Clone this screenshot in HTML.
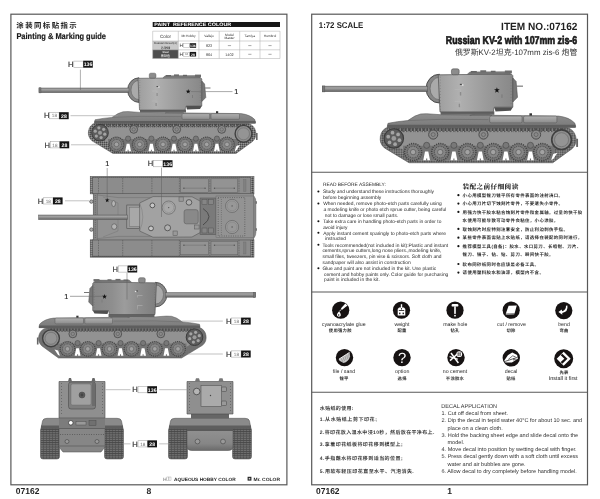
<!DOCTYPE html>
<html><head><meta charset="utf-8"><title>07162</title>
<style>html,body{margin:0;padding:0;background:#fff}svg{display:block;will-change:transform;transform:translateZ(0);text-rendering:geometricPrecision;filter:blur(0.35px)}</style>
</head><body>
<svg width="600" height="499" viewBox="0 0 600 499">
<defs>
<linearGradient id="gTur" x1="0" y1="0" x2="1" y2="0"><stop offset="0" stop-color="#9e9e9e"/><stop offset="0.28" stop-color="#b0b0b0"/><stop offset="0.65" stop-color="#9a9a9a"/><stop offset="1" stop-color="#888"/></linearGradient>
<linearGradient id="gTur3" x1="0" y1="0" x2="1" y2="0"><stop offset="0" stop-color="#7e7e7e"/><stop offset="0.3" stop-color="#8e8e8e"/><stop offset="0.5" stop-color="#9c9c9c"/><stop offset="0.7" stop-color="#8e8e8e"/><stop offset="1" stop-color="#868686"/></linearGradient>
<linearGradient id="gBar" x1="0" y1="0" x2="0" y2="1"><stop offset="0" stop-color="#8e8e8e"/><stop offset="0.35" stop-color="#a2a2a2"/><stop offset="1" stop-color="#626262"/></linearGradient>
<linearGradient id="gHull" x1="0" y1="0" x2="0" y2="1"><stop offset="0" stop-color="#8e8e8e"/><stop offset="1" stop-color="#7a7a7a"/></linearGradient>
<linearGradient id="gBox" x1="0" y1="0" x2="0" y2="1"><stop offset="0" stop-color="#b0b0b0"/><stop offset="1" stop-color="#8c8c8c"/></linearGradient>
<linearGradient id="gLow" x1="0" y1="0" x2="0" y2="1"><stop offset="0" stop-color="#929292"/><stop offset="0.7" stop-color="#868686"/><stop offset="1" stop-color="#6a6a6a"/></linearGradient>
<pattern id="pTrk" width="2" height="2" patternUnits="userSpaceOnUse"><rect width="2" height="2" fill="#727272"/><rect width="1" height="1" fill="#4a4a4a"/><rect x="1" y="1" width="1" height="1" fill="#949494"/></pattern>
<pattern id="pTrkV" width="3" height="2.2" patternUnits="userSpaceOnUse"><rect width="3" height="2.2" fill="#727272"/><rect width="3" height="0.9" fill="#484848"/><rect x="1" y="0.9" width="1" height="1.3" fill="#585858"/></pattern>
</defs>
<rect width="600" height="499" fill="#fff"/>

<rect x="10.9" y="14.2" width="276" height="470.6" fill="none" stroke="#585858" stroke-width="1.2"/>
<rect x="311.7" y="14.2" width="275.8" height="470.6" fill="none" stroke="#585858" stroke-width="1.2"/>
<line x1="311.7" y1="172.2" x2="587.5" y2="172.2" stroke="#585858" stroke-width="1.1"/>
<line x1="311.7" y1="292" x2="587.5" y2="292" stroke="#585858" stroke-width="1.1"/>
<line x1="311.7" y1="392.3" x2="587.5" y2="392.3" stroke="#585858" stroke-width="1.1"/>
<g transform="">
<path d="M95,123 L248,123.4 A10.5,10.6 0 0 1 252.5,141.5 L236,153.5 L113,153.5 L92,140.8 A10,10.4 0 0 1 95,123 Z" fill="url(#pTrk)" stroke="#4c4c4c" stroke-width="0.5"/>
<path d="M101,127.4 L240,127.4 L240,140 L236,143.4 L110,143.4 L104,140 Z" fill="#929292"/>
<path d="M108,139 L238,139 L238,143.4 L234,151.3 L113,151.3 L108,143.4 Z" fill="#747474"/>
<path d="M126.69999999999999,143.8 L129.5,143.8 L131.0,151.3 L128.6,151.3 L128.6,149.8 L127.6,149.8 L127.6,151.3 L125.19999999999999,151.3 Z" fill="#fff"/>
<path d="M150.0,143.8 L152.8,143.8 L154.3,151.3 L151.9,151.3 L151.9,149.8 L150.9,149.8 L150.9,151.3 L148.5,151.3 Z" fill="#fff"/>
<path d="M172.6,143.8 L175.4,143.8 L176.9,151.3 L174.5,151.3 L174.5,149.8 L173.5,149.8 L173.5,151.3 L171.1,151.3 Z" fill="#fff"/>
<path d="M194.5,143.8 L197.3,143.8 L198.8,151.3 L196.4,151.3 L196.4,149.8 L195.4,149.8 L195.4,151.3 L193.0,151.3 Z" fill="#fff"/>
<path d="M215.5,143.8 L218.3,143.8 L219.8,151.3 L217.4,151.3 L217.4,149.8 L216.4,149.8 L216.4,151.3 L214.0,151.3 Z" fill="#fff"/>
<path d="M236.4,146 L240,145 L236.4,150.4 L234.6,151.2 Z" fill="#fff"/>
<line x1="100" y1="125.6" x2="246" y2="125.6" stroke="#4a4a4a" stroke-width="3.2" stroke-dasharray="1.5 1.6"/>
<line x1="100" y1="126.9" x2="246" y2="126.9" stroke="#9a9a9a" stroke-width="0.9" stroke-dasharray="1.2 1.9"/>
<circle cx="133.7" cy="129.4" r="3.9" fill="#8a8a8a" stroke="#484848" stroke-width="0.8"/>
<circle cx="133.7" cy="129.4" r="1.7" fill="none" stroke="#5c5c5c" stroke-width="0.6"/>
<circle cx="176.7" cy="129.4" r="3.9" fill="#8a8a8a" stroke="#484848" stroke-width="0.8"/>
<circle cx="176.7" cy="129.4" r="1.7" fill="none" stroke="#5c5c5c" stroke-width="0.6"/>
<circle cx="221.7" cy="129.4" r="3.9" fill="#8a8a8a" stroke="#484848" stroke-width="0.8"/>
<circle cx="221.7" cy="129.4" r="1.7" fill="none" stroke="#5c5c5c" stroke-width="0.6"/>
<circle cx="128.1" cy="138.6" r="2.6" fill="#787878" stroke="#4c4c4c" stroke-width="0.6"/>
<circle cx="151.4" cy="138.6" r="2.6" fill="#787878" stroke="#4c4c4c" stroke-width="0.6"/>
<circle cx="174" cy="138.6" r="2.6" fill="#787878" stroke="#4c4c4c" stroke-width="0.6"/>
<circle cx="195.9" cy="138.6" r="2.6" fill="#787878" stroke="#4c4c4c" stroke-width="0.6"/>
<circle cx="216.9" cy="138.6" r="2.6" fill="#787878" stroke="#4c4c4c" stroke-width="0.6"/>
<circle cx="116.5" cy="144.4" r="7.3" fill="#787878" stroke="#444" stroke-width="1.3" stroke-dasharray="1 0.9"/>
<circle cx="116.5" cy="144.4" r="5" fill="#868686" stroke="#505050" stroke-width="1" stroke-dasharray="0.8 0.8"/>
<circle cx="116.5" cy="144.4" r="2.3" fill="#a2a2a2" stroke="#505050" stroke-width="0.5"/>
<circle cx="139.7" cy="144.4" r="7.3" fill="#787878" stroke="#444" stroke-width="1.3" stroke-dasharray="1 0.9"/>
<circle cx="139.7" cy="144.4" r="5" fill="#868686" stroke="#505050" stroke-width="1" stroke-dasharray="0.8 0.8"/>
<circle cx="139.7" cy="144.4" r="2.3" fill="#a2a2a2" stroke="#505050" stroke-width="0.5"/>
<circle cx="163" cy="144.4" r="7.3" fill="#787878" stroke="#444" stroke-width="1.3" stroke-dasharray="1 0.9"/>
<circle cx="163" cy="144.4" r="5" fill="#868686" stroke="#505050" stroke-width="1" stroke-dasharray="0.8 0.8"/>
<circle cx="163" cy="144.4" r="2.3" fill="#a2a2a2" stroke="#505050" stroke-width="0.5"/>
<circle cx="185" cy="144.4" r="7.3" fill="#787878" stroke="#444" stroke-width="1.3" stroke-dasharray="1 0.9"/>
<circle cx="185" cy="144.4" r="5" fill="#868686" stroke="#505050" stroke-width="1" stroke-dasharray="0.8 0.8"/>
<circle cx="185" cy="144.4" r="2.3" fill="#a2a2a2" stroke="#505050" stroke-width="0.5"/>
<circle cx="206.7" cy="144.4" r="7.3" fill="#787878" stroke="#444" stroke-width="1.3" stroke-dasharray="1 0.9"/>
<circle cx="206.7" cy="144.4" r="5" fill="#868686" stroke="#505050" stroke-width="1" stroke-dasharray="0.8 0.8"/>
<circle cx="206.7" cy="144.4" r="2.3" fill="#a2a2a2" stroke="#505050" stroke-width="0.5"/>
<circle cx="227" cy="144.4" r="7.3" fill="#787878" stroke="#444" stroke-width="1.3" stroke-dasharray="1 0.9"/>
<circle cx="227" cy="144.4" r="5" fill="#868686" stroke="#505050" stroke-width="1" stroke-dasharray="0.8 0.8"/>
<circle cx="227" cy="144.4" r="2.3" fill="#a2a2a2" stroke="#505050" stroke-width="0.5"/>
<circle cx="100" cy="132.7" r="8.3" fill="#5c5c5c" stroke="#3c3c3c" stroke-width="1"/>
<circle cx="104.78" cy="134.18" r="1.6" fill="#a4a4a4"/>
<circle cx="101.11" cy="137.58" r="1.6" fill="#a4a4a4"/>
<circle cx="96.33" cy="136.10" r="1.6" fill="#a4a4a4"/>
<circle cx="95.22" cy="131.22" r="1.6" fill="#a4a4a4"/>
<circle cx="98.89" cy="127.82" r="1.6" fill="#a4a4a4"/>
<circle cx="103.67" cy="129.30" r="1.6" fill="#a4a4a4"/>
<circle cx="100" cy="132.7" r="2" fill="#9a9a9a"/>
<circle cx="243.5" cy="133.8" r="8.4" fill="#8e8e8e" stroke="#404040" stroke-width="1.4"/>
<circle cx="243.5" cy="133.8" r="6" fill="#949494" stroke="#6a6a6a" stroke-width="0.6"/>
<rect x="256" y="133" width="1.6" height="7" fill="#666"/>
<path d="M94.5,122.5 L95,119.8 L103,118.4 L112,117.4 L118,113.6 L123,111.8 L128,111.6 L140,112.4 L241,113.6 Q250,114.6 254.8,119.6 L255.6,123 L94.5,123 Z" fill="url(#gHull)" stroke="#555" stroke-width="0.5"/>
<rect x="94.5" y="121" width="161" height="2.6" fill="#5e5e5e"/>
<rect x="182" y="113.6" width="27.7" height="5.8" rx="1.2" fill="url(#gBox)" stroke="#5a5a5a" stroke-width="0.5"/>
<rect x="211" y="113.6" width="28.5" height="5.8" rx="1.2" fill="url(#gBox)" stroke="#5a5a5a" stroke-width="0.5"/>
<path d="M165,113 Q174,108.8 184,113 Z" fill="#8c8c8c" stroke="#555" stroke-width="0.4"/>
<rect x="216" y="111.2" width="2.2" height="2" fill="#333"/>
<path d="M112,117.4 L140,116.4 L181,116.6" fill="none" stroke="#666" stroke-width="0.5"/>
<rect x="140" y="109.5" width="46" height="3" fill="#626262"/>
<path d="M139,77.8 A11.4,12.3 0 0 0 139,102.4 Z" fill="#868686" stroke="#424242" stroke-width="0.8"/>
<path d="M139,80.4 A8,9.6 0 0 0 139,99.6 Z" fill="#aaaaaa" stroke="#5c5c5c" stroke-width="0.5"/>
<rect x="39" y="88" width="90" height="4.7" fill="url(#gBar)" stroke="#5a5a5a" stroke-width="0.5"/>
<rect x="39" y="87.8" width="2" height="5.1" fill="#777" stroke="#555" stroke-width="0.4"/>
<path d="M138,78.3 L200.5,77.6 L201.8,79 L201.8,106 L186,106 L185,110 L139.5,110 Z" fill="url(#gTur)" stroke="#505050" stroke-width="0.6"/>
<path d="M186,106 L201.8,106 L200,109 L187,109.6 Z" fill="#505050"/>
<rect x="149.3" y="73.2" width="6.6" height="5" rx="1.5" fill="#8c8c8c" stroke="#505050" stroke-width="0.5"/>
<path d="M163,77.8 L165,75.8 L198,75.6 L200,77.6 Z" fill="#7c7c7c" stroke="#505050" stroke-width="0.4"/>
<rect x="166" y="75" width="5" height="1.4" fill="#666"/><rect x="174" y="74.4" width="5" height="1.8" fill="#6c6c6c"/><rect x="183" y="74.8" width="4" height="1.4" fill="#666"/><rect x="195" y="74.6" width="6" height="2.4" fill="#6c6c6c"/>
<path d="M201.8,81 L204.6,84 L205.8,97.5 L201.8,101.5 Z" fill="#777" stroke="#484848" stroke-width="0.5"/>
<rect x="205" y="87.5" width="5.5" height="1" fill="#777"/>
<rect x="156.5" y="86" width="1.8" height="1" fill="#4a4a4a"/><rect x="158.2" y="86.4" width="1.4" height="1.2" fill="#e4e4e4"/>
<path d="M152,91 h5 v4 M152,101 h5 v4" fill="none" stroke="#b8b8b8" stroke-width="0.5"/>
<rect x="156.5" y="93" width="1.2" height="3" fill="#8c8c8c"/><rect x="155.5" y="103" width="1.2" height="3" fill="#8c8c8c"/>
<rect x="192" y="95" width="1" height="3" fill="#7c7c7c"/>
<line x1="139.8" y1="80" x2="139.8" y2="108" stroke="#6a6a6a" stroke-width="0.6" stroke-dasharray="0.5 2"/><line x1="200.3" y1="80" x2="200.3" y2="104" stroke="#6a6a6a" stroke-width="0.6" stroke-dasharray="0.5 2"/>
</g>
<polygon points="188.20,89.10 188.79,90.79 190.58,90.83 189.15,91.91 189.67,93.62 188.20,92.60 186.73,93.62 187.25,91.91 185.82,90.83 187.61,90.79" fill="#111"/>
<g transform="translate(294.5,204.5) scale(-1,1)">
<path d="M95,123 L248,123.4 A10.5,10.6 0 0 1 252.5,141.5 L236,153.5 L113,153.5 L92,140.8 A10,10.4 0 0 1 95,123 Z" fill="url(#pTrk)" stroke="#4c4c4c" stroke-width="0.5"/>
<path d="M101,127.4 L240,127.4 L240,140 L236,143.4 L110,143.4 L104,140 Z" fill="#929292"/>
<path d="M108,139 L238,139 L238,143.4 L234,151.3 L113,151.3 L108,143.4 Z" fill="#747474"/>
<path d="M126.69999999999999,143.8 L129.5,143.8 L131.0,151.3 L128.6,151.3 L128.6,149.8 L127.6,149.8 L127.6,151.3 L125.19999999999999,151.3 Z" fill="#fff"/>
<path d="M150.0,143.8 L152.8,143.8 L154.3,151.3 L151.9,151.3 L151.9,149.8 L150.9,149.8 L150.9,151.3 L148.5,151.3 Z" fill="#fff"/>
<path d="M172.6,143.8 L175.4,143.8 L176.9,151.3 L174.5,151.3 L174.5,149.8 L173.5,149.8 L173.5,151.3 L171.1,151.3 Z" fill="#fff"/>
<path d="M194.5,143.8 L197.3,143.8 L198.8,151.3 L196.4,151.3 L196.4,149.8 L195.4,149.8 L195.4,151.3 L193.0,151.3 Z" fill="#fff"/>
<path d="M215.5,143.8 L218.3,143.8 L219.8,151.3 L217.4,151.3 L217.4,149.8 L216.4,149.8 L216.4,151.3 L214.0,151.3 Z" fill="#fff"/>
<path d="M236.4,146 L240,145 L236.4,150.4 L234.6,151.2 Z" fill="#fff"/>
<line x1="100" y1="125.6" x2="246" y2="125.6" stroke="#4a4a4a" stroke-width="3.2" stroke-dasharray="1.5 1.6"/>
<line x1="100" y1="126.9" x2="246" y2="126.9" stroke="#9a9a9a" stroke-width="0.9" stroke-dasharray="1.2 1.9"/>
<circle cx="133.7" cy="129.4" r="3.9" fill="#8a8a8a" stroke="#484848" stroke-width="0.8"/>
<circle cx="133.7" cy="129.4" r="1.7" fill="none" stroke="#5c5c5c" stroke-width="0.6"/>
<circle cx="176.7" cy="129.4" r="3.9" fill="#8a8a8a" stroke="#484848" stroke-width="0.8"/>
<circle cx="176.7" cy="129.4" r="1.7" fill="none" stroke="#5c5c5c" stroke-width="0.6"/>
<circle cx="221.7" cy="129.4" r="3.9" fill="#8a8a8a" stroke="#484848" stroke-width="0.8"/>
<circle cx="221.7" cy="129.4" r="1.7" fill="none" stroke="#5c5c5c" stroke-width="0.6"/>
<circle cx="128.1" cy="138.6" r="2.6" fill="#787878" stroke="#4c4c4c" stroke-width="0.6"/>
<circle cx="151.4" cy="138.6" r="2.6" fill="#787878" stroke="#4c4c4c" stroke-width="0.6"/>
<circle cx="174" cy="138.6" r="2.6" fill="#787878" stroke="#4c4c4c" stroke-width="0.6"/>
<circle cx="195.9" cy="138.6" r="2.6" fill="#787878" stroke="#4c4c4c" stroke-width="0.6"/>
<circle cx="216.9" cy="138.6" r="2.6" fill="#787878" stroke="#4c4c4c" stroke-width="0.6"/>
<circle cx="116.5" cy="144.4" r="7.3" fill="#787878" stroke="#444" stroke-width="1.3" stroke-dasharray="1 0.9"/>
<circle cx="116.5" cy="144.4" r="5" fill="#868686" stroke="#505050" stroke-width="1" stroke-dasharray="0.8 0.8"/>
<circle cx="116.5" cy="144.4" r="2.3" fill="#a2a2a2" stroke="#505050" stroke-width="0.5"/>
<circle cx="139.7" cy="144.4" r="7.3" fill="#787878" stroke="#444" stroke-width="1.3" stroke-dasharray="1 0.9"/>
<circle cx="139.7" cy="144.4" r="5" fill="#868686" stroke="#505050" stroke-width="1" stroke-dasharray="0.8 0.8"/>
<circle cx="139.7" cy="144.4" r="2.3" fill="#a2a2a2" stroke="#505050" stroke-width="0.5"/>
<circle cx="163" cy="144.4" r="7.3" fill="#787878" stroke="#444" stroke-width="1.3" stroke-dasharray="1 0.9"/>
<circle cx="163" cy="144.4" r="5" fill="#868686" stroke="#505050" stroke-width="1" stroke-dasharray="0.8 0.8"/>
<circle cx="163" cy="144.4" r="2.3" fill="#a2a2a2" stroke="#505050" stroke-width="0.5"/>
<circle cx="185" cy="144.4" r="7.3" fill="#787878" stroke="#444" stroke-width="1.3" stroke-dasharray="1 0.9"/>
<circle cx="185" cy="144.4" r="5" fill="#868686" stroke="#505050" stroke-width="1" stroke-dasharray="0.8 0.8"/>
<circle cx="185" cy="144.4" r="2.3" fill="#a2a2a2" stroke="#505050" stroke-width="0.5"/>
<circle cx="206.7" cy="144.4" r="7.3" fill="#787878" stroke="#444" stroke-width="1.3" stroke-dasharray="1 0.9"/>
<circle cx="206.7" cy="144.4" r="5" fill="#868686" stroke="#505050" stroke-width="1" stroke-dasharray="0.8 0.8"/>
<circle cx="206.7" cy="144.4" r="2.3" fill="#a2a2a2" stroke="#505050" stroke-width="0.5"/>
<circle cx="227" cy="144.4" r="7.3" fill="#787878" stroke="#444" stroke-width="1.3" stroke-dasharray="1 0.9"/>
<circle cx="227" cy="144.4" r="5" fill="#868686" stroke="#505050" stroke-width="1" stroke-dasharray="0.8 0.8"/>
<circle cx="227" cy="144.4" r="2.3" fill="#a2a2a2" stroke="#505050" stroke-width="0.5"/>
<circle cx="100" cy="132.7" r="8.3" fill="#5c5c5c" stroke="#3c3c3c" stroke-width="1"/>
<circle cx="104.78" cy="134.18" r="1.6" fill="#a4a4a4"/>
<circle cx="101.11" cy="137.58" r="1.6" fill="#a4a4a4"/>
<circle cx="96.33" cy="136.10" r="1.6" fill="#a4a4a4"/>
<circle cx="95.22" cy="131.22" r="1.6" fill="#a4a4a4"/>
<circle cx="98.89" cy="127.82" r="1.6" fill="#a4a4a4"/>
<circle cx="103.67" cy="129.30" r="1.6" fill="#a4a4a4"/>
<circle cx="100" cy="132.7" r="2" fill="#9a9a9a"/>
<circle cx="243.5" cy="133.8" r="8.4" fill="#8e8e8e" stroke="#404040" stroke-width="1.4"/>
<circle cx="243.5" cy="133.8" r="6" fill="#949494" stroke="#6a6a6a" stroke-width="0.6"/>
<rect x="256" y="133" width="1.6" height="7" fill="#666"/>
<path d="M94.5,122.5 L95,119.8 L103,118.4 L112,117.4 L118,113.6 L123,111.8 L128,111.6 L140,112.4 L241,113.6 Q250,114.6 254.8,119.6 L255.6,123 L94.5,123 Z" fill="url(#gHull)" stroke="#555" stroke-width="0.5"/>
<rect x="94.5" y="121" width="161" height="2.6" fill="#5e5e5e"/>
<rect x="182" y="113.6" width="27.7" height="5.8" rx="1.2" fill="url(#gBox)" stroke="#5a5a5a" stroke-width="0.5"/>
<rect x="211" y="113.6" width="28.5" height="5.8" rx="1.2" fill="url(#gBox)" stroke="#5a5a5a" stroke-width="0.5"/>
<path d="M165,113 Q174,108.8 184,113 Z" fill="#8c8c8c" stroke="#555" stroke-width="0.4"/>
<rect x="216" y="111.2" width="2.2" height="2" fill="#333"/>
<path d="M112,117.4 L140,116.4 L181,116.6" fill="none" stroke="#666" stroke-width="0.5"/>
<rect x="140" y="109.5" width="46" height="3" fill="#626262"/>
<path d="M139,77.8 A11.4,12.3 0 0 0 139,102.4 Z" fill="#868686" stroke="#424242" stroke-width="0.8"/>
<path d="M139,80.4 A8,9.6 0 0 0 139,99.6 Z" fill="#aaaaaa" stroke="#5c5c5c" stroke-width="0.5"/>
<rect x="39" y="88" width="90" height="4.7" fill="url(#gBar)" stroke="#5a5a5a" stroke-width="0.5"/>
<rect x="39" y="87.8" width="2" height="5.1" fill="#777" stroke="#555" stroke-width="0.4"/>
<path d="M138,78.3 L200.5,77.6 L201.8,79 L201.8,106 L186,106 L185,110 L139.5,110 Z" fill="url(#gTur3)" stroke="#505050" stroke-width="0.6"/>
<path d="M186,106 L201.8,106 L200,109 L187,109.6 Z" fill="#505050"/>
<rect x="149.3" y="73.2" width="6.6" height="5" rx="1.5" fill="#8c8c8c" stroke="#505050" stroke-width="0.5"/>
<path d="M163,77.8 L165,75.8 L198,75.6 L200,77.6 Z" fill="#7c7c7c" stroke="#505050" stroke-width="0.4"/>
<rect x="166" y="75" width="5" height="1.4" fill="#666"/><rect x="174" y="74.4" width="5" height="1.8" fill="#6c6c6c"/><rect x="183" y="74.8" width="4" height="1.4" fill="#666"/><rect x="195" y="74.6" width="6" height="2.4" fill="#6c6c6c"/>
<path d="M201.8,81 L204.6,84 L205.8,97.5 L201.8,101.5 Z" fill="#777" stroke="#484848" stroke-width="0.5"/>
<rect x="205" y="87.5" width="5.5" height="1" fill="#777"/>
<rect x="156.5" y="86" width="1.8" height="1" fill="#4a4a4a"/><rect x="158.2" y="86.4" width="1.4" height="1.2" fill="#e4e4e4"/>
<path d="M152,91 h5 v4 M152,101 h5 v4" fill="none" stroke="#b8b8b8" stroke-width="0.5"/>
<rect x="156.5" y="93" width="1.2" height="3" fill="#8c8c8c"/><rect x="155.5" y="103" width="1.2" height="3" fill="#8c8c8c"/>
<rect x="192" y="95" width="1" height="3" fill="#7c7c7c"/>
<line x1="139.8" y1="80" x2="139.8" y2="108" stroke="#6a6a6a" stroke-width="0.6" stroke-dasharray="0.5 2"/><line x1="200.3" y1="80" x2="200.3" y2="104" stroke="#6a6a6a" stroke-width="0.6" stroke-dasharray="0.5 2"/>
</g>
<polygon points="104.50,294.00 105.11,295.76 106.97,295.80 105.49,296.92 106.03,298.70 104.50,297.64 102.97,298.70 103.51,296.92 102.03,295.80 103.89,295.76" fill="#111"/>
<g transform="translate(276.909,-16.702) scale(1.169)">
<path d="M95,123 L248,123.4 A10.5,10.6 0 0 1 252.5,141.5 L236,153.5 L113,153.5 L92,140.8 A10,10.4 0 0 1 95,123 Z" fill="url(#pTrk)" stroke="#4c4c4c" stroke-width="0.5"/>
<path d="M101,127.4 L240,127.4 L240,140 L236,143.4 L110,143.4 L104,140 Z" fill="#929292"/>
<path d="M108,139 L238,139 L238,143.4 L234,151.3 L113,151.3 L108,143.4 Z" fill="#747474"/>
<path d="M126.69999999999999,143.8 L129.5,143.8 L131.0,151.3 L128.6,151.3 L128.6,149.8 L127.6,149.8 L127.6,151.3 L125.19999999999999,151.3 Z" fill="#fff"/>
<path d="M150.0,143.8 L152.8,143.8 L154.3,151.3 L151.9,151.3 L151.9,149.8 L150.9,149.8 L150.9,151.3 L148.5,151.3 Z" fill="#fff"/>
<path d="M172.6,143.8 L175.4,143.8 L176.9,151.3 L174.5,151.3 L174.5,149.8 L173.5,149.8 L173.5,151.3 L171.1,151.3 Z" fill="#fff"/>
<path d="M194.5,143.8 L197.3,143.8 L198.8,151.3 L196.4,151.3 L196.4,149.8 L195.4,149.8 L195.4,151.3 L193.0,151.3 Z" fill="#fff"/>
<path d="M215.5,143.8 L218.3,143.8 L219.8,151.3 L217.4,151.3 L217.4,149.8 L216.4,149.8 L216.4,151.3 L214.0,151.3 Z" fill="#fff"/>
<path d="M236.4,146 L240,145 L236.4,150.4 L234.6,151.2 Z" fill="#fff"/>
<line x1="100" y1="125.6" x2="246" y2="125.6" stroke="#4a4a4a" stroke-width="3.2" stroke-dasharray="1.5 1.6"/>
<line x1="100" y1="126.9" x2="246" y2="126.9" stroke="#9a9a9a" stroke-width="0.9" stroke-dasharray="1.2 1.9"/>
<circle cx="133.7" cy="129.4" r="3.9" fill="#8a8a8a" stroke="#484848" stroke-width="0.8"/>
<circle cx="133.7" cy="129.4" r="1.7" fill="none" stroke="#5c5c5c" stroke-width="0.6"/>
<circle cx="176.7" cy="129.4" r="3.9" fill="#8a8a8a" stroke="#484848" stroke-width="0.8"/>
<circle cx="176.7" cy="129.4" r="1.7" fill="none" stroke="#5c5c5c" stroke-width="0.6"/>
<circle cx="221.7" cy="129.4" r="3.9" fill="#8a8a8a" stroke="#484848" stroke-width="0.8"/>
<circle cx="221.7" cy="129.4" r="1.7" fill="none" stroke="#5c5c5c" stroke-width="0.6"/>
<circle cx="128.1" cy="138.6" r="2.6" fill="#787878" stroke="#4c4c4c" stroke-width="0.6"/>
<circle cx="151.4" cy="138.6" r="2.6" fill="#787878" stroke="#4c4c4c" stroke-width="0.6"/>
<circle cx="174" cy="138.6" r="2.6" fill="#787878" stroke="#4c4c4c" stroke-width="0.6"/>
<circle cx="195.9" cy="138.6" r="2.6" fill="#787878" stroke="#4c4c4c" stroke-width="0.6"/>
<circle cx="216.9" cy="138.6" r="2.6" fill="#787878" stroke="#4c4c4c" stroke-width="0.6"/>
<circle cx="116.5" cy="144.4" r="7.3" fill="#787878" stroke="#444" stroke-width="1.3" stroke-dasharray="1 0.9"/>
<circle cx="116.5" cy="144.4" r="5" fill="#868686" stroke="#505050" stroke-width="1" stroke-dasharray="0.8 0.8"/>
<circle cx="116.5" cy="144.4" r="2.3" fill="#a2a2a2" stroke="#505050" stroke-width="0.5"/>
<circle cx="139.7" cy="144.4" r="7.3" fill="#787878" stroke="#444" stroke-width="1.3" stroke-dasharray="1 0.9"/>
<circle cx="139.7" cy="144.4" r="5" fill="#868686" stroke="#505050" stroke-width="1" stroke-dasharray="0.8 0.8"/>
<circle cx="139.7" cy="144.4" r="2.3" fill="#a2a2a2" stroke="#505050" stroke-width="0.5"/>
<circle cx="163" cy="144.4" r="7.3" fill="#787878" stroke="#444" stroke-width="1.3" stroke-dasharray="1 0.9"/>
<circle cx="163" cy="144.4" r="5" fill="#868686" stroke="#505050" stroke-width="1" stroke-dasharray="0.8 0.8"/>
<circle cx="163" cy="144.4" r="2.3" fill="#a2a2a2" stroke="#505050" stroke-width="0.5"/>
<circle cx="185" cy="144.4" r="7.3" fill="#787878" stroke="#444" stroke-width="1.3" stroke-dasharray="1 0.9"/>
<circle cx="185" cy="144.4" r="5" fill="#868686" stroke="#505050" stroke-width="1" stroke-dasharray="0.8 0.8"/>
<circle cx="185" cy="144.4" r="2.3" fill="#a2a2a2" stroke="#505050" stroke-width="0.5"/>
<circle cx="206.7" cy="144.4" r="7.3" fill="#787878" stroke="#444" stroke-width="1.3" stroke-dasharray="1 0.9"/>
<circle cx="206.7" cy="144.4" r="5" fill="#868686" stroke="#505050" stroke-width="1" stroke-dasharray="0.8 0.8"/>
<circle cx="206.7" cy="144.4" r="2.3" fill="#a2a2a2" stroke="#505050" stroke-width="0.5"/>
<circle cx="227" cy="144.4" r="7.3" fill="#787878" stroke="#444" stroke-width="1.3" stroke-dasharray="1 0.9"/>
<circle cx="227" cy="144.4" r="5" fill="#868686" stroke="#505050" stroke-width="1" stroke-dasharray="0.8 0.8"/>
<circle cx="227" cy="144.4" r="2.3" fill="#a2a2a2" stroke="#505050" stroke-width="0.5"/>
<circle cx="100" cy="132.7" r="8.3" fill="#5c5c5c" stroke="#3c3c3c" stroke-width="1"/>
<circle cx="104.78" cy="134.18" r="1.6" fill="#a4a4a4"/>
<circle cx="101.11" cy="137.58" r="1.6" fill="#a4a4a4"/>
<circle cx="96.33" cy="136.10" r="1.6" fill="#a4a4a4"/>
<circle cx="95.22" cy="131.22" r="1.6" fill="#a4a4a4"/>
<circle cx="98.89" cy="127.82" r="1.6" fill="#a4a4a4"/>
<circle cx="103.67" cy="129.30" r="1.6" fill="#a4a4a4"/>
<circle cx="100" cy="132.7" r="2" fill="#9a9a9a"/>
<circle cx="243.5" cy="133.8" r="8.4" fill="#8e8e8e" stroke="#404040" stroke-width="1.4"/>
<circle cx="243.5" cy="133.8" r="6" fill="#949494" stroke="#6a6a6a" stroke-width="0.6"/>
<rect x="256" y="133" width="1.6" height="7" fill="#666"/>
<path d="M94.5,122.5 L95,119.8 L103,118.4 L112,117.4 L118,113.6 L123,111.8 L128,111.6 L140,112.4 L241,113.6 Q250,114.6 254.8,119.6 L255.6,123 L94.5,123 Z" fill="url(#gHull)" stroke="#555" stroke-width="0.5"/>
<rect x="94.5" y="121" width="161" height="2.6" fill="#5e5e5e"/>
<rect x="182" y="113.6" width="27.7" height="5.8" rx="1.2" fill="url(#gBox)" stroke="#5a5a5a" stroke-width="0.5"/>
<rect x="211" y="113.6" width="28.5" height="5.8" rx="1.2" fill="url(#gBox)" stroke="#5a5a5a" stroke-width="0.5"/>
<path d="M165,113 Q174,108.8 184,113 Z" fill="#8c8c8c" stroke="#555" stroke-width="0.4"/>
<rect x="216" y="111.2" width="2.2" height="2" fill="#333"/>
<path d="M112,117.4 L140,116.4 L181,116.6" fill="none" stroke="#666" stroke-width="0.5"/>
<rect x="140" y="109.5" width="46" height="3" fill="#626262"/>
<path d="M139,77.8 A11.4,12.3 0 0 0 139,102.4 Z" fill="#868686" stroke="#424242" stroke-width="0.8"/>
<path d="M139,80.4 A8,9.6 0 0 0 139,99.6 Z" fill="#aaaaaa" stroke="#5c5c5c" stroke-width="0.5"/>
<rect x="39" y="88" width="90" height="4.7" fill="url(#gBar)" stroke="#5a5a5a" stroke-width="0.5"/>
<rect x="39" y="87.8" width="2" height="5.1" fill="#777" stroke="#555" stroke-width="0.4"/>
<path d="M138,78.3 L200.5,77.6 L201.8,79 L201.8,106 L186,106 L185,110 L139.5,110 Z" fill="url(#gTur)" stroke="#505050" stroke-width="0.6"/>
<path d="M186,106 L201.8,106 L200,109 L187,109.6 Z" fill="#505050"/>
<rect x="149.3" y="73.2" width="6.6" height="5" rx="1.5" fill="#8c8c8c" stroke="#505050" stroke-width="0.5"/>
<path d="M163,77.8 L165,75.8 L198,75.6 L200,77.6 Z" fill="#7c7c7c" stroke="#505050" stroke-width="0.4"/>
<rect x="166" y="75" width="5" height="1.4" fill="#666"/><rect x="174" y="74.4" width="5" height="1.8" fill="#6c6c6c"/><rect x="183" y="74.8" width="4" height="1.4" fill="#666"/><rect x="195" y="74.6" width="6" height="2.4" fill="#6c6c6c"/>
<path d="M201.8,81 L204.6,84 L205.8,97.5 L201.8,101.5 Z" fill="#777" stroke="#484848" stroke-width="0.5"/>
<rect x="205" y="87.5" width="5.5" height="1" fill="#777"/>
<rect x="156.5" y="86" width="1.8" height="1" fill="#4a4a4a"/><rect x="158.2" y="86.4" width="1.4" height="1.2" fill="#e4e4e4"/>
<path d="M152,91 h5 v4 M152,101 h5 v4" fill="none" stroke="#b8b8b8" stroke-width="0.5"/>
<rect x="156.5" y="93" width="1.2" height="3" fill="#8c8c8c"/><rect x="155.5" y="103" width="1.2" height="3" fill="#8c8c8c"/>
<rect x="192" y="95" width="1" height="3" fill="#7c7c7c"/>
<line x1="139.8" y1="80" x2="139.8" y2="108" stroke="#6a6a6a" stroke-width="0.6" stroke-dasharray="0.5 2"/><line x1="200.3" y1="80" x2="200.3" y2="104" stroke="#6a6a6a" stroke-width="0.6" stroke-dasharray="0.5 2"/>
</g>
<polygon points="496.91,87.21 497.62,89.24 499.77,89.28 498.06,90.58 498.68,92.64 496.91,91.41 495.15,92.64 495.77,90.58 494.06,89.28 496.21,89.24" fill="#111"/>
<g>
<rect x="90.2" y="176.5" width="163.8" height="17.4" fill="url(#pTrk)" stroke="#505050" stroke-width="0.5"/>
<rect x="90.2" y="239.8" width="163.8" height="17.4" fill="url(#pTrk)" stroke="#505050" stroke-width="0.5"/>
<rect x="92.6" y="177.6" width="158.2" height="16.2" fill="#8c8c8c" stroke="#5a5a5a" stroke-width="0.5"/>
<rect x="92.6" y="239.9" width="158.2" height="16.2" fill="#8c8c8c" stroke="#5a5a5a" stroke-width="0.5"/>
<rect x="93.2" y="193.7" width="160.6" height="46.2" fill="#8f8f8f" stroke="#555" stroke-width="0.5"/>
<path d="M253.8,196 Q256,198 256,202 L256,232 Q256,236 253.8,238 Z" fill="#8c8c8c" stroke="#555" stroke-width="0.4"/>
<line x1="98.5" y1="178" x2="98.5" y2="193.6" stroke="#575757" stroke-width="0.9" stroke-dasharray="0.7 1"/>
<line x1="98.5" y1="240" x2="98.5" y2="256" stroke="#575757" stroke-width="0.9" stroke-dasharray="0.7 1"/>
<line x1="122.7" y1="178" x2="122.7" y2="193.6" stroke="#575757" stroke-width="0.9" stroke-dasharray="0.7 1"/>
<line x1="122.7" y1="240" x2="122.7" y2="256" stroke="#575757" stroke-width="0.9" stroke-dasharray="0.7 1"/>
<line x1="151.9" y1="178" x2="151.9" y2="193.6" stroke="#575757" stroke-width="0.9" stroke-dasharray="0.7 1"/>
<line x1="151.9" y1="240" x2="151.9" y2="256" stroke="#575757" stroke-width="0.9" stroke-dasharray="0.7 1"/>
<line x1="179.4" y1="178" x2="179.4" y2="193.6" stroke="#575757" stroke-width="0.9" stroke-dasharray="0.7 1"/>
<line x1="179.4" y1="240" x2="179.4" y2="256" stroke="#575757" stroke-width="0.9" stroke-dasharray="0.7 1"/>
<line x1="209.8" y1="178" x2="209.8" y2="193.6" stroke="#575757" stroke-width="0.9" stroke-dasharray="0.7 1"/>
<line x1="209.8" y1="240" x2="209.8" y2="256" stroke="#575757" stroke-width="0.9" stroke-dasharray="0.7 1"/>
<line x1="239" y1="178" x2="239" y2="193.6" stroke="#575757" stroke-width="0.9" stroke-dasharray="0.7 1"/>
<line x1="239" y1="240" x2="239" y2="256" stroke="#575757" stroke-width="0.9" stroke-dasharray="0.7 1"/>
<line x1="93" y1="177.2" x2="251" y2="177.2" stroke="#4a4a4a" stroke-width="0.8" stroke-dasharray="0.8 1.2"/><line x1="93" y1="256.6" x2="251" y2="256.6" stroke="#4a4a4a" stroke-width="0.8" stroke-dasharray="0.8 1.2"/>
<rect x="180.4" y="178.8" width="28.2" height="13.6" fill="#939393" stroke="#5c5c5c" stroke-width="0.5"/>
<rect x="180.4" y="241.2" width="28.2" height="13.6" fill="#939393" stroke="#5c5c5c" stroke-width="0.5"/>
<line x1="183.9" y1="188.2" x2="205.1" y2="188.2" stroke="#6a6a6a" stroke-width="0.5"/>
<line x1="183.9" y1="245.2" x2="205.1" y2="245.2" stroke="#6a6a6a" stroke-width="0.5"/>
<circle cx="183.9" cy="188.2" r="0.7" fill="#555"/><circle cx="183.9" cy="245.2" r="0.7" fill="#555"/>
<circle cx="205.1" cy="188.2" r="0.7" fill="#555"/><circle cx="205.1" cy="245.2" r="0.7" fill="#555"/>
<rect x="211" y="178.8" width="26.8" height="13.6" fill="#939393" stroke="#5c5c5c" stroke-width="0.5"/>
<rect x="211" y="241.2" width="26.8" height="13.6" fill="#939393" stroke="#5c5c5c" stroke-width="0.5"/>
<line x1="214.5" y1="188.2" x2="234.3" y2="188.2" stroke="#6a6a6a" stroke-width="0.5"/>
<line x1="214.5" y1="245.2" x2="234.3" y2="245.2" stroke="#6a6a6a" stroke-width="0.5"/>
<circle cx="214.5" cy="188.2" r="0.7" fill="#555"/><circle cx="214.5" cy="245.2" r="0.7" fill="#555"/>
<circle cx="234.3" cy="188.2" r="0.7" fill="#555"/><circle cx="234.3" cy="245.2" r="0.7" fill="#555"/>
<rect x="243.6" y="179.5" width="2.4" height="12" fill="#808080" stroke="#666" stroke-width="0.3"/><rect x="243.6" y="242" width="2.4" height="12" fill="#808080" stroke="#666" stroke-width="0.3"/>
<rect x="93.2" y="193.7" width="4.2" height="46.2" fill="#868686" stroke="#5a5a5a" stroke-width="0.4"/>
<line x1="95.3" y1="195" x2="95.3" y2="239" stroke="#4c4c4c" stroke-width="0.8" stroke-dasharray="0.7 1.4"/>
<path d="M97.4,195 L118,197.6 L152,197.6 L152,236.4 L118,236.4 L97.4,238.6 Z" fill="#929292" stroke="#666" stroke-width="0.4"/>
<path d="M103,197 L118,203 L118,231 L103,237" fill="none" stroke="#707070" stroke-width="0.4"/>
<circle cx="91.4" cy="201.6" r="1.7" fill="#b0b0b0" stroke="#444" stroke-width="0.7"/><circle cx="91.4" cy="229.6" r="1.7" fill="#b0b0b0" stroke="#444" stroke-width="0.7"/>
<ellipse cx="113.6" cy="203.6" rx="1.9" ry="3" fill="#b4b4b4" stroke="#505050" stroke-width="0.6"/><ellipse cx="114.2" cy="226.6" rx="2.6" ry="2.8" fill="#b4b4b4" stroke="#505050" stroke-width="0.6"/>
<rect x="200" y="198" width="16" height="36.6" fill="#7a7a7a" stroke="#505050" stroke-width="0.5"/>
<path d="M203,208.5 Q215,216.5 203,225" fill="none" stroke="#4a4a4a" stroke-width="1"/>
<rect x="202" y="199.5" width="5" height="5" fill="#858585" stroke="#4a4a4a" stroke-width="0.4"/><rect x="208.5" y="199.5" width="5" height="5" fill="#858585" stroke="#4a4a4a" stroke-width="0.4"/><rect x="202" y="228" width="5" height="5" fill="#858585" stroke="#4a4a4a" stroke-width="0.4"/><rect x="208.5" y="228" width="5" height="5" fill="#858585" stroke="#4a4a4a" stroke-width="0.4"/>
<rect x="216" y="196" width="37.8" height="41.6" fill="#939393" stroke="#626262" stroke-width="0.4"/>
<rect x="218.2" y="197.6" width="26.6" height="38.4" fill="none" stroke="#4c4c4c" stroke-width="0.8" stroke-dasharray="0.8 1.5"/>
<line x1="221.4" y1="199" x2="221.4" y2="235" stroke="#555" stroke-width="0.7" stroke-dasharray="0.7 1.5"/>
<circle cx="232.1" cy="205.9" r="6.6" fill="#9c9c9c" stroke="#5c5c5c" stroke-width="0.6"/><circle cx="232.1" cy="205.9" r="5" fill="#989898" stroke="#7a7a7a" stroke-width="0.4"/><circle cx="232.1" cy="205.9" r="0.7" fill="#555"/>
<circle cx="232.1" cy="227" r="6.6" fill="#9c9c9c" stroke="#5c5c5c" stroke-width="0.6"/><circle cx="232.1" cy="227" r="5" fill="#989898" stroke="#7a7a7a" stroke-width="0.4"/><circle cx="232.1" cy="227" r="0.7" fill="#555"/>
<rect x="254.8" y="201" width="2.2" height="3" rx="1" fill="#777"/><rect x="254.8" y="228" width="2.2" height="3" rx="1" fill="#777"/>
<path d="M139.6,203 L153,196.6 L192,196.8 L200,201 L200,232.6 L192,237 L153,237.2 L139.6,231 Z" fill="#a2a2a2" stroke="#555" stroke-width="0.6"/>
<path d="M139.6,203 Q146,217 139.6,231" fill="none" stroke="#7a7a7a" stroke-width="0.5"/>
<rect x="126.8" y="205" width="12.8" height="23.6" fill="#999" stroke="#505050" stroke-width="0.6"/>
<rect x="129.6" y="207.4" width="10" height="18.8" fill="#a8a8a8" stroke="#666" stroke-width="0.4"/>
<rect x="38.5" y="215" width="89" height="4.6" fill="url(#gBar)" stroke="#5a5a5a" stroke-width="0.5"/>
<circle cx="168.7" cy="207.6" r="6.6" fill="#a8a8a8" stroke="#5a5a5a" stroke-width="0.6"/><circle cx="168.7" cy="207.6" r="5" fill="none" stroke="#808080" stroke-width="0.4"/><circle cx="168.7" cy="207.6" r="0.7" fill="#555"/>
<rect x="184.1" y="209.7" width="14.1" height="14.1" rx="2.2" fill="#898989" stroke="#5c5c5c" stroke-width="0.6"/>
<circle cx="152.4" cy="205.4" r="2.4" fill="#c6c6c6" stroke="#404040" stroke-width="0.8"/><circle cx="151" cy="228.4" r="2.4" fill="#c6c6c6" stroke="#404040" stroke-width="0.8"/><circle cx="167.6" cy="227.8" r="3" fill="#b0b0b0" stroke="#484848" stroke-width="0.8"/><circle cx="189" cy="202.4" r="2.8" fill="#b0b0b0" stroke="#484848" stroke-width="0.8"/>
<rect x="179" y="197" width="4.2" height="4.2" fill="#999" stroke="#555" stroke-width="0.5"/><rect x="173" y="231" width="4.2" height="4.6" fill="#999" stroke="#555" stroke-width="0.5"/><rect x="194.5" y="225" width="4.6" height="4" fill="#999" stroke="#555" stroke-width="0.5"/>
</g>
<polygon points="107.20,198.00 107.74,199.56 109.39,199.59 108.07,200.58 108.55,202.16 107.20,201.22 105.85,202.16 106.33,200.58 105.01,199.59 106.66,199.56" fill="#111"/>
<g transform="translate(0,0)">
<rect x="40.5" y="427.5" width="19" height="31.5" rx="2.5" fill="url(#pTrkV)" stroke="#4a4a4a" stroke-width="0.5"/>
<rect x="104.5" y="427.5" width="19" height="31.5" rx="2.5" fill="url(#pTrkV)" stroke="#4a4a4a" stroke-width="0.5"/>
<path d="M59,428 L105,428 L105,447 L101,452 L63,452 L59,447 Z" fill="#868686" stroke="#4a4a4a" stroke-width="0.5"/>
<line x1="60" y1="434.5" x2="104" y2="434.5" stroke="#555" stroke-width="1.2" stroke-dasharray="0.8 1.6"/>
<circle cx="67" cy="441.5" r="2" fill="#999" stroke="#444" stroke-width="0.6"/><circle cx="97" cy="441.5" r="2" fill="#999" stroke="#444" stroke-width="0.6"/>
<rect x="59" y="445.5" width="46" height="1" fill="#666"/>
<path d="M42.5,421 Q43,418.3 47,418.3 L117,418.3 Q121,418.3 121.5,421 L123,428.5 L41,428.5 Z" fill="#8a8a8a" stroke="#4a4a4a" stroke-width="0.5"/>
<rect x="41" y="425.5" width="82" height="3" fill="#5e5e5e"/>
<rect x="59" y="419" width="46" height="9" fill="#7c7c7c"/>
<circle cx="70.8" cy="422.8" r="2.3" fill="#fff" stroke="#333" stroke-width="0.7"/>
<rect x="76" y="421.5" width="10" height="3.5" fill="#999" stroke="#444" stroke-width="0.4"/><rect x="89" y="420.5" width="7" height="5" fill="#707070" stroke="#444" stroke-width="0.4"/>
<path d="M59,381.5 L105,381.5 L105,418 L59,418 Z" fill="#8f8f8f" stroke="#4a4a4a" stroke-width="0.6"/>
<rect x="68.5" y="382" width="27" height="27" rx="2.5" fill="#7e7e7e" stroke="#4a4a4a" stroke-width="0.6"/>
<rect x="71" y="384" width="20" height="21" rx="1.5" fill="#a0a0a0" stroke="#666" stroke-width="0.4"/>
<rect x="92" y="383" width="3.2" height="23" fill="#6c6c6c"/>
<circle cx="82" cy="395" r="3" fill="#5a5a5a" stroke="#444" stroke-width="0.5"/><circle cx="82" cy="395" r="1.4" fill="#444"/>
<line x1="61.5" y1="383" x2="61.5" y2="416" stroke="#555" stroke-width="0.9" stroke-dasharray="0.7 2.3"/><line x1="102.5" y1="383" x2="102.5" y2="416" stroke="#555" stroke-width="0.9" stroke-dasharray="0.7 2.3"/>
<path d="M68,381.5 L69,378 L71,378 L72,381.5 Z" fill="#666"/><path d="M91.5,381.5 L92.5,378 L94.5,378 L95.5,381.5 Z" fill="#666"/>
</g>
<g transform="translate(128,0)">
<rect x="40.5" y="427.5" width="19" height="31.5" rx="2.5" fill="url(#pTrkV)" stroke="#4a4a4a" stroke-width="0.5"/>
<rect x="104.5" y="427.5" width="19" height="31.5" rx="2.5" fill="url(#pTrkV)" stroke="#4a4a4a" stroke-width="0.5"/>
<path d="M59,428 L105,428 L105,446 Q105,450.5 100,450.5 L64,450.5 Q59,450.5 59,446 Z" fill="url(#gLow)" stroke="#4a4a4a" stroke-width="0.5"/>
<circle cx="69.5" cy="441.5" r="2.4" fill="#999" stroke="#444" stroke-width="0.6"/><circle cx="95" cy="441.5" r="2.4" fill="#999" stroke="#444" stroke-width="0.6"/>
<rect x="59" y="428" width="46" height="3" fill="#5a5a5a"/>
<path d="M42.5,421 Q43,418.3 47,418.3 L117,418.3 Q121,418.3 121.5,421 L123,428.5 L41,428.5 Z" fill="#8a8a8a" stroke="#4a4a4a" stroke-width="0.5"/>
<rect x="41" y="425.5" width="82" height="3" fill="#5e5e5e"/>
<rect x="63" y="414" width="38" height="4.6" fill="#666"/>
<path d="M59,381.5 L105,381.5 L105,414 L59,414 Z" fill="#8f8f8f" stroke="#4a4a4a" stroke-width="0.6"/>
<rect x="73" y="385.5" width="20.5" height="21" fill="#aaaaaa" stroke="#555" stroke-width="0.6"/>
<circle cx="82.5" cy="395.5" r="0.7" fill="#444"/>
<circle cx="68.7" cy="391.5" r="3.3" fill="#b5b5b5" stroke="#444" stroke-width="0.8"/>
<rect x="93.5" y="387" width="5" height="4.5" rx="1" fill="#999" stroke="#444" stroke-width="0.5"/><rect x="93.5" y="401" width="5" height="4.5" rx="1" fill="#999" stroke="#444" stroke-width="0.5"/>
<line x1="61.5" y1="383" x2="61.5" y2="412" stroke="#555" stroke-width="0.9" stroke-dasharray="0.7 2.3"/><line x1="102.5" y1="383" x2="102.5" y2="412" stroke="#555" stroke-width="0.9" stroke-dasharray="0.7 2.3"/>
<path d="M67,381.5 L68,378.3 L71,378.3 L72,381.5 Z" fill="#777"/><path d="M90.5,381.5 L91.5,378.3 L94.5,378.3 L95.5,381.5 Z" fill="#777"/>
</g>
<text x="16.3" y="27.6" font-size="7.4" font-weight="bold" fill="#222" text-anchor="start" font-family='"Liberation Sans", "Noto Sans CJK SC", sans-serif' letter-spacing="1.45" >涂装同标贴指示</text>
<text x="16.4" y="38.6" font-size="8.5" font-weight="bold" fill="#1a1a1a" text-anchor="start" font-family='"Liberation Sans", "Noto Sans CJK SC", sans-serif' textLength="89.6" lengthAdjust="spacingAndGlyphs" stroke="#1a1a1a" stroke-width="0.2">Painting &amp; Marking guide</text>
<text x="68" y="66.95" font-size="7.6" font-weight="normal" fill="#383838" text-anchor="start" font-family='"Liberation Sans", "Noto Sans CJK SC", sans-serif' stroke="#383838" stroke-width="0.2">H</text>
<rect x="73.8" y="61.1" width="9.4" height="6.2" fill="#fff" stroke="#999" stroke-width="0.5"/>
<rect x="83.2" y="60.7" width="9.6" height="7" fill="#151515"/>
<text x="88" y="66.10000000000001" font-size="5.2" font-weight="bold" fill="#fff" text-anchor="middle" font-family='"Liberation Sans", "Noto Sans CJK SC", sans-serif' >136</text>
<line x1="80.4" y1="69.6" x2="80.4" y2="90" stroke="#5e5e5e" stroke-width="0.5"/>
<text x="43.9" y="118.45" font-size="7.6" font-weight="normal" fill="#383838" text-anchor="start" font-family='"Liberation Sans", "Noto Sans CJK SC", sans-serif' stroke="#383838" stroke-width="0.2">H</text>
<rect x="49.699999999999996" y="112.60000000000001" width="9.4" height="6.2" fill="#fff" stroke="#999" stroke-width="0.5"/>
<text x="54.4" y="117.4" font-size="4.6" font-weight="normal" fill="#777" text-anchor="middle" font-family='"Liberation Sans", "Noto Sans CJK SC", sans-serif' >18</text>
<rect x="59.099999999999994" y="112.2" width="9.6" height="7" fill="#151515"/>
<text x="63.9" y="117.60000000000001" font-size="5.2" font-weight="bold" fill="#fff" text-anchor="middle" font-family='"Liberation Sans", "Noto Sans CJK SC", sans-serif' >28</text>
<line x1="70.5" y1="115.7" x2="118" y2="115.7" stroke="#999" stroke-width="0.6"/>
<text x="44.4" y="147.55" font-size="7.6" font-weight="normal" fill="#383838" text-anchor="start" font-family='"Liberation Sans", "Noto Sans CJK SC", sans-serif' stroke="#383838" stroke-width="0.2">H</text>
<rect x="50.199999999999996" y="141.70000000000002" width="9.4" height="6.2" fill="#fff" stroke="#999" stroke-width="0.5"/>
<text x="54.9" y="146.5" font-size="4.6" font-weight="normal" fill="#777" text-anchor="middle" font-family='"Liberation Sans", "Noto Sans CJK SC", sans-serif' >18</text>
<rect x="59.599999999999994" y="141.3" width="9.6" height="7" fill="#151515"/>
<text x="64.4" y="146.70000000000002" font-size="5.2" font-weight="bold" fill="#fff" text-anchor="middle" font-family='"Liberation Sans", "Noto Sans CJK SC", sans-serif' >28</text>
<line x1="71" y1="144.8" x2="98" y2="144.8" stroke="#999" stroke-width="0.6"/>
<line x1="191" y1="91.6" x2="232.5" y2="91.6" stroke="#707070" stroke-width="0.6"/>
<text x="234.3" y="94" font-size="7.3" font-weight="normal" fill="#222" text-anchor="start" font-family='"Liberation Sans", "Noto Sans CJK SC", sans-serif' stroke="#222" stroke-width="0.15">1</text>
<text x="147.7" y="166.45" font-size="7.6" font-weight="normal" fill="#383838" text-anchor="start" font-family='"Liberation Sans", "Noto Sans CJK SC", sans-serif' stroke="#383838" stroke-width="0.2">H</text>
<rect x="153.5" y="160.6" width="9.4" height="6.2" fill="#fff" stroke="#999" stroke-width="0.5"/>
<rect x="162.89999999999998" y="160.2" width="9.6" height="7" fill="#151515"/>
<text x="167.7" y="165.6" font-size="5.2" font-weight="bold" fill="#fff" text-anchor="middle" font-family='"Liberation Sans", "Noto Sans CJK SC", sans-serif' >136</text>
<line x1="161.5" y1="167.6" x2="161.5" y2="217" stroke="#5e5e5e" stroke-width="0.5"/>
<text x="105.2" y="166" font-size="7.3" font-weight="normal" fill="#222" text-anchor="start" font-family='"Liberation Sans", "Noto Sans CJK SC", sans-serif' stroke="#222" stroke-width="0.15">1</text>
<line x1="107.2" y1="168" x2="107.2" y2="198" stroke="#5e5e5e" stroke-width="0.5"/>
<text x="37.8" y="203.65" font-size="7.6" font-weight="normal" fill="#383838" text-anchor="start" font-family='"Liberation Sans", "Noto Sans CJK SC", sans-serif' stroke="#383838" stroke-width="0.2">H</text>
<rect x="43.599999999999994" y="197.8" width="9.4" height="6.2" fill="#fff" stroke="#999" stroke-width="0.5"/>
<text x="48.3" y="202.6" font-size="4.6" font-weight="normal" fill="#777" text-anchor="middle" font-family='"Liberation Sans", "Noto Sans CJK SC", sans-serif' >18</text>
<rect x="53.0" y="197.4" width="9.6" height="7" fill="#151515"/>
<text x="57.8" y="202.8" font-size="5.2" font-weight="bold" fill="#fff" text-anchor="middle" font-family='"Liberation Sans", "Noto Sans CJK SC", sans-serif' >28</text>
<line x1="65" y1="200.8" x2="89" y2="200.8" stroke="#999" stroke-width="0.6"/>
<text x="112.4" y="271.75" font-size="7.6" font-weight="normal" fill="#383838" text-anchor="start" font-family='"Liberation Sans", "Noto Sans CJK SC", sans-serif' stroke="#383838" stroke-width="0.2">H</text>
<rect x="118.2" y="265.9" width="9.4" height="6.2" fill="#fff" stroke="#999" stroke-width="0.5"/>
<rect x="127.60000000000001" y="265.5" width="9.6" height="7" fill="#151515"/>
<text x="132.4" y="270.9" font-size="5.2" font-weight="bold" fill="#fff" text-anchor="middle" font-family='"Liberation Sans", "Noto Sans CJK SC", sans-serif' >136</text>
<line x1="127" y1="272.8" x2="127" y2="299.5" stroke="#5e5e5e" stroke-width="0.5"/>
<text x="64.2" y="298.6" font-size="7.3" font-weight="normal" fill="#222" text-anchor="start" font-family='"Liberation Sans", "Noto Sans CJK SC", sans-serif' stroke="#222" stroke-width="0.15">1</text>
<line x1="70" y1="296.3" x2="102.5" y2="296.3" stroke="#666" stroke-width="0.6"/>
<text x="225.9" y="323.85" font-size="7.6" font-weight="normal" fill="#383838" text-anchor="start" font-family='"Liberation Sans", "Noto Sans CJK SC", sans-serif' stroke="#383838" stroke-width="0.2">H</text>
<rect x="231.70000000000002" y="318.0" width="9.4" height="6.2" fill="#fff" stroke="#999" stroke-width="0.5"/>
<text x="236.4" y="322.8" font-size="4.6" font-weight="normal" fill="#777" text-anchor="middle" font-family='"Liberation Sans", "Noto Sans CJK SC", sans-serif' >18</text>
<rect x="241.1" y="317.6" width="9.6" height="7" fill="#151515"/>
<text x="245.9" y="323.0" font-size="5.2" font-weight="bold" fill="#fff" text-anchor="middle" font-family='"Liberation Sans", "Noto Sans CJK SC", sans-serif' >28</text>
<line x1="182" y1="321.1" x2="222.8" y2="321.1" stroke="#999" stroke-width="0.6"/>
<text x="225.9" y="356.75" font-size="7.6" font-weight="normal" fill="#383838" text-anchor="start" font-family='"Liberation Sans", "Noto Sans CJK SC", sans-serif' stroke="#383838" stroke-width="0.2">H</text>
<rect x="231.70000000000002" y="350.9" width="9.4" height="6.2" fill="#fff" stroke="#999" stroke-width="0.5"/>
<text x="236.4" y="355.7" font-size="4.6" font-weight="normal" fill="#777" text-anchor="middle" font-family='"Liberation Sans", "Noto Sans CJK SC", sans-serif' >18</text>
<rect x="241.1" y="350.5" width="9.6" height="7" fill="#151515"/>
<text x="245.9" y="355.9" font-size="5.2" font-weight="bold" fill="#fff" text-anchor="middle" font-family='"Liberation Sans", "Noto Sans CJK SC", sans-serif' >28</text>
<line x1="188" y1="354" x2="222.8" y2="354" stroke="#999" stroke-width="0.6"/>
<text x="132.2" y="392.45" font-size="7.6" font-weight="normal" fill="#383838" text-anchor="start" font-family='"Liberation Sans", "Noto Sans CJK SC", sans-serif' stroke="#383838" stroke-width="0.2">H</text>
<rect x="138.0" y="386.59999999999997" width="9.4" height="6.2" fill="#fff" stroke="#999" stroke-width="0.5"/>
<rect x="147.39999999999998" y="386.2" width="9.6" height="7" fill="#151515"/>
<text x="152.2" y="391.59999999999997" font-size="5.2" font-weight="bold" fill="#fff" text-anchor="middle" font-family='"Liberation Sans", "Noto Sans CJK SC", sans-serif' >136</text>
<line x1="105.5" y1="389.7" x2="130.5" y2="389.7" stroke="#999" stroke-width="0.6"/>
<line x1="159.2" y1="389.7" x2="187.5" y2="389.7" stroke="#999" stroke-width="0.6"/>
<text x="132.2" y="446.6" font-size="7.6" font-weight="normal" fill="#383838" text-anchor="start" font-family='"Liberation Sans", "Noto Sans CJK SC", sans-serif' stroke="#383838" stroke-width="0.2">H</text>
<rect x="138.0" y="440.75" width="9.4" height="6.2" fill="#fff" stroke="#999" stroke-width="0.5"/>
<text x="142.7" y="445.55" font-size="4.6" font-weight="normal" fill="#777" text-anchor="middle" font-family='"Liberation Sans", "Noto Sans CJK SC", sans-serif' >18</text>
<rect x="147.39999999999998" y="440.35" width="9.6" height="7" fill="#151515"/>
<text x="152.2" y="445.75" font-size="5.2" font-weight="bold" fill="#fff" text-anchor="middle" font-family='"Liberation Sans", "Noto Sans CJK SC", sans-serif' >28</text>
<line x1="123" y1="443.85" x2="130.5" y2="443.85" stroke="#999" stroke-width="0.6"/>
<line x1="159.2" y1="443.85" x2="170" y2="443.85" stroke="#999" stroke-width="0.6"/>
<text x="163.3" y="480.6" font-size="4.6" font-weight="normal" fill="#444" text-anchor="start" font-family='"Liberation Sans", "Noto Sans CJK SC", sans-serif' >H</text>
<rect x="166.8" y="477" width="2" height="3.6" fill="#fff" stroke="#999" stroke-width="0.4"/><rect x="169" y="477" width="2" height="3.6" fill="#fff" stroke="#999" stroke-width="0.4"/>
<text x="174" y="480.6" font-size="4.7" font-weight="bold" fill="#222" text-anchor="start" font-family='"Liberation Sans", "Noto Sans CJK SC", sans-serif' textLength="61.6" lengthAdjust="spacingAndGlyphs" >AQUEOUS HOBBY COLOR</text>
<rect x="247.6" y="476.8" width="3.8" height="3.8" fill="#222"/><rect x="248.7" y="477.9" width="1.6" height="1.6" fill="#ccc"/>
<text x="253.6" y="480.6" font-size="4.7" font-weight="bold" fill="#222" text-anchor="start" font-family='"Liberation Sans", "Noto Sans CJK SC", sans-serif' textLength="26.4" lengthAdjust="spacingAndGlyphs" >Mr. COLOR</text>
<text x="15.8" y="493.8" font-size="8.6" font-weight="bold" fill="#222" text-anchor="start" font-family='"Liberation Sans", "Noto Sans CJK SC", sans-serif' textLength="23.6" lengthAdjust="spacingAndGlyphs" >07162</text>
<text x="146.5" y="494" font-size="8.6" font-weight="bold" fill="#222" text-anchor="start" font-family='"Liberation Sans", "Noto Sans CJK SC", sans-serif' >8</text>
<rect x="152.7" y="22" width="127.3" height="5" fill="#161616"/>
<text x="154.2" y="26.3" font-size="4.9" font-weight="bold" fill="#fff" text-anchor="start" font-family='"Liberation Sans", "Noto Sans CJK SC", sans-serif' textLength="77" lengthAdjust="spacingAndGlyphs" xml:space="preserve">PAINT&#160;&#160;REFERENCE COLOUR</text>
<rect x="152.7" y="41" width="25.600000000000023" height="8.799999999999997" fill="#c9c9c9"/>
<rect x="152.7" y="49.8" width="25.600000000000023" height="8.700000000000003" fill="#4e4e4e"/>
<line x1="152.7" y1="31.2" x2="152.7" y2="58.5" stroke="#aaa" stroke-width="0.5"/>
<line x1="178.3" y1="31.2" x2="178.3" y2="58.5" stroke="#aaa" stroke-width="0.5"/>
<line x1="198.9" y1="31.2" x2="198.9" y2="58.5" stroke="#aaa" stroke-width="0.5"/>
<line x1="219.2" y1="31.2" x2="219.2" y2="58.5" stroke="#aaa" stroke-width="0.5"/>
<line x1="239.7" y1="31.2" x2="239.7" y2="58.5" stroke="#aaa" stroke-width="0.5"/>
<line x1="260" y1="31.2" x2="260" y2="58.5" stroke="#aaa" stroke-width="0.5"/>
<line x1="280" y1="31.2" x2="280" y2="58.5" stroke="#aaa" stroke-width="0.5"/>
<line x1="152.7" y1="31.2" x2="280" y2="31.2" stroke="#aaa" stroke-width="0.5"/>
<line x1="152.7" y1="41" x2="280" y2="41" stroke="#aaa" stroke-width="0.5"/>
<line x1="152.7" y1="49.8" x2="280" y2="49.8" stroke="#aaa" stroke-width="0.5"/>
<line x1="152.7" y1="58.5" x2="280" y2="58.5" stroke="#aaa" stroke-width="0.5"/>
<text x="165.5" y="38" font-size="4.6" font-weight="normal" fill="#333" text-anchor="middle" font-family='"Liberation Sans", "Noto Sans CJK SC", sans-serif' >Color</text>
<text x="188.60000000000002" y="37.4" font-size="3.3" font-weight="normal" fill="#333" text-anchor="middle" font-family='"Liberation Sans", "Noto Sans CJK SC", sans-serif' >Mr.Hobby</text>
<text x="209.05" y="37.4" font-size="3.3" font-weight="normal" fill="#333" text-anchor="middle" font-family='"Liberation Sans", "Noto Sans CJK SC", sans-serif' >Vallejo</text>
<text x="229.45" y="35.8" font-size="3.3" font-weight="normal" fill="#333" text-anchor="middle" font-family='"Liberation Sans", "Noto Sans CJK SC", sans-serif' >Model</text>
<text x="229.45" y="39" font-size="3.3" font-weight="normal" fill="#333" text-anchor="middle" font-family='"Liberation Sans", "Noto Sans CJK SC", sans-serif' >Master</text>
<text x="249.85" y="37.4" font-size="3.3" font-weight="normal" fill="#333" text-anchor="middle" font-family='"Liberation Sans", "Noto Sans CJK SC", sans-serif' >Tamiya</text>
<text x="270.0" y="37.4" font-size="3.3" font-weight="normal" fill="#333" text-anchor="middle" font-family='"Liberation Sans", "Noto Sans CJK SC", sans-serif' >Humbrol</text>
<text x="165.5" y="44.4" font-size="2.9" font-weight="normal" fill="#333" text-anchor="middle" font-family='"Liberation Sans", "Noto Sans CJK SC", sans-serif' >Russian Green(3)</text>
<text x="165.5" y="48.6" font-size="3.2" font-weight="normal" fill="#333" text-anchor="middle" font-family='"Liberation Sans", "Noto Sans CJK SC", sans-serif' >苏联绿</text>
<text x="165.5" y="53.4" font-size="2.9" font-weight="normal" fill="#fff" text-anchor="middle" font-family='"Liberation Sans", "Noto Sans CJK SC", sans-serif' >Steel</text>
<text x="165.5" y="57.4" font-size="3.2" font-weight="normal" fill="#fff" text-anchor="middle" font-family='"Liberation Sans", "Noto Sans CJK SC", sans-serif' >黑铁色</text>
<text x="179.6" y="47.3" font-size="5" font-weight="normal" fill="#333" text-anchor="start" font-family='"Liberation Sans", "Noto Sans CJK SC", sans-serif' >H</text>
<rect x="183.5" y="43.5" width="6.2" height="4" fill="#fff" stroke="#999" stroke-width="0.4"/>
<rect x="189.79999999999998" y="43.2" width="6.3" height="4.6" fill="#151515"/>
<text x="192.9" y="46.8" font-size="3.4" font-weight="bold" fill="#fff" text-anchor="middle" font-family='"Liberation Sans", "Noto Sans CJK SC", sans-serif' >136</text>
<text x="179.6" y="56.0" font-size="5" font-weight="normal" fill="#333" text-anchor="start" font-family='"Liberation Sans", "Noto Sans CJK SC", sans-serif' >H</text>
<rect x="183.5" y="52.2" width="6.2" height="4" fill="#fff" stroke="#999" stroke-width="0.4"/>
<text x="186.6" y="55.300000000000004" font-size="3" font-weight="normal" fill="#777" text-anchor="middle" font-family='"Liberation Sans", "Noto Sans CJK SC", sans-serif' >18</text>
<rect x="189.79999999999998" y="51.900000000000006" width="6.3" height="4.6" fill="#151515"/>
<text x="192.9" y="55.5" font-size="3.4" font-weight="bold" fill="#fff" text-anchor="middle" font-family='"Liberation Sans", "Noto Sans CJK SC", sans-serif' >28</text>
<text x="209.05" y="46.9" font-size="3.8" font-weight="normal" fill="#444" text-anchor="middle" font-family='"Liberation Sans", "Noto Sans CJK SC", sans-serif' >823</text>
<text x="209.05" y="55.6" font-size="3.8" font-weight="normal" fill="#444" text-anchor="middle" font-family='"Liberation Sans", "Noto Sans CJK SC", sans-serif' >864</text>
<text x="229.45" y="55.6" font-size="3.8" font-weight="normal" fill="#444" text-anchor="middle" font-family='"Liberation Sans", "Noto Sans CJK SC", sans-serif' >1402</text>
<line x1="227.85" y1="45.6" x2="231.04999999999998" y2="45.6" stroke="#555" stroke-width="0.5"/>
<line x1="248.25" y1="45.6" x2="251.45" y2="45.6" stroke="#555" stroke-width="0.5"/>
<line x1="268.4" y1="45.6" x2="271.6" y2="45.6" stroke="#555" stroke-width="0.5"/>
<line x1="248.25" y1="54.3" x2="251.45" y2="54.3" stroke="#555" stroke-width="0.5"/>
<line x1="268.4" y1="54.3" x2="271.6" y2="54.3" stroke="#555" stroke-width="0.5"/>
<text x="318.8" y="27.7" font-size="8.4" font-weight="bold" fill="#222" text-anchor="start" font-family='"Liberation Sans", "Noto Sans CJK SC", sans-serif' textLength="44.4" lengthAdjust="spacingAndGlyphs" >1:72 SCALE</text>
<text x="577.4" y="30.1" font-size="10.5" font-weight="bold" fill="#222" text-anchor="end" font-family='"Liberation Sans", "Noto Sans CJK SC", sans-serif' textLength="76.3" lengthAdjust="spacingAndGlyphs" >ITEM NO.:07162</text>
<text x="577.2" y="43.5" font-size="11.3" font-weight="bold" fill="#1a1a1a" text-anchor="end" font-family='"Liberation Sans", "Noto Sans CJK SC", sans-serif' textLength="131.4" lengthAdjust="spacingAndGlyphs" stroke="#1a1a1a" stroke-width="0.7">Russian KV-2 with 107mm zis-6</text>
<text x="577.4" y="55.1" font-size="7.9" font-weight="normal" fill="#333" text-anchor="end" font-family='"Liberation Sans", "Noto Sans CJK SC", sans-serif' textLength="122.5" lengthAdjust="spacingAndGlyphs" >俄罗斯KV-2坦克-107mm zis-6 炮管</text>
<text x="322.9" y="186.1" font-size="4.88" font-weight="normal" fill="#262626" text-anchor="start" font-family='"Liberation Sans", "Noto Sans CJK SC", sans-serif' >READ BEFORE ASSEMBLY:</text>
<text x="322.9" y="193.15" font-size="4.88" font-weight="normal" fill="#262626" text-anchor="start" font-family='"Liberation Sans", "Noto Sans CJK SC", sans-serif' >Study and understand these instructions thoroughly</text>
<circle cx="318.4" cy="191.45000000000002" r="1.05" fill="#111"/>
<text x="322.9" y="198.8" font-size="4.88" font-weight="normal" fill="#262626" text-anchor="start" font-family='"Liberation Sans", "Noto Sans CJK SC", sans-serif' >before beginning assembly</text>
<text x="323.2" y="205.2" font-size="4.88" font-weight="normal" fill="#262626" text-anchor="start" font-family='"Liberation Sans", "Noto Sans CJK SC", sans-serif' >When needed, remove photo-etch parts carefully using</text>
<circle cx="318.4" cy="203.5" r="1.05" fill="#111"/>
<text x="323.5" y="210.95" font-size="4.88" font-weight="normal" fill="#262626" text-anchor="start" font-family='"Liberation Sans", "Noto Sans CJK SC", sans-serif' >a modeling knife or photo etch sprue cutter, being careful</text>
<text x="324.8" y="216.6" font-size="4.88" font-weight="normal" fill="#262626" text-anchor="start" font-family='"Liberation Sans", "Noto Sans CJK SC", sans-serif' >not to damage or lose small parts.</text>
<text x="323.2" y="223" font-size="4.88" font-weight="normal" fill="#262626" text-anchor="start" font-family='"Liberation Sans", "Noto Sans CJK SC", sans-serif' >Take extra care in handling photo-etch parts in order to</text>
<circle cx="318.4" cy="221.3" r="1.05" fill="#111"/>
<text x="322.9" y="228.6" font-size="4.88" font-weight="normal" fill="#262626" text-anchor="start" font-family='"Liberation Sans", "Noto Sans CJK SC", sans-serif' >avoid injury</text>
<text x="323.2" y="234.5" font-size="4.88" font-weight="normal" fill="#262626" text-anchor="start" font-family='"Liberation Sans", "Noto Sans CJK SC", sans-serif' >Apply instant cement sparingly to photo-etch parts where</text>
<circle cx="318.4" cy="232.8" r="1.05" fill="#111"/>
<text x="324.8" y="239.8" font-size="4.88" font-weight="normal" fill="#262626" text-anchor="start" font-family='"Liberation Sans", "Noto Sans CJK SC", sans-serif' >instructed</text>
<text x="322.4" y="246.5" font-size="4.88" font-weight="normal" fill="#262626" text-anchor="start" font-family='"Liberation Sans", "Noto Sans CJK SC", sans-serif' >Tools recommended(not included in kit):Plastic and instant</text>
<circle cx="318.4" cy="244.8" r="1.05" fill="#111"/>
<text x="322.4" y="252.2" font-size="4.88" font-weight="normal" fill="#262626" text-anchor="start" font-family='"Liberation Sans", "Noto Sans CJK SC", sans-serif' >cements,sprue cutters,long nose pliers.,modeling knife,</text>
<text x="322.6" y="257.9" font-size="4.88" font-weight="normal" fill="#262626" text-anchor="start" font-family='"Liberation Sans", "Noto Sans CJK SC", sans-serif' >small files, tweezers, pin vise &amp; scissors. Soft cloth and</text>
<text x="322.6" y="263.6" font-size="4.88" font-weight="normal" fill="#262626" text-anchor="start" font-family='"Liberation Sans", "Noto Sans CJK SC", sans-serif' >sandpaper will also assist in construction</text>
<text x="322.4" y="270" font-size="4.88" font-weight="normal" fill="#262626" text-anchor="start" font-family='"Liberation Sans", "Noto Sans CJK SC", sans-serif' >Glue and paint are not included in the kit. Use plastic</text>
<circle cx="318.4" cy="268.3" r="1.05" fill="#111"/>
<text x="324.0" y="275.7" font-size="4.88" font-weight="normal" fill="#262626" text-anchor="start" font-family='"Liberation Sans", "Noto Sans CJK SC", sans-serif' >cement and hobby paints only. Color guide for purchasing</text>
<text x="324.0" y="281.4" font-size="4.88" font-weight="normal" fill="#262626" text-anchor="start" font-family='"Liberation Sans", "Noto Sans CJK SC", sans-serif' >paint is included in the kit.</text>
<text x="462.4" y="188.7" font-size="6.7" font-weight="900" fill="#222" text-anchor="start" font-family='"Liberation Serif", "Noto Serif CJK SC", serif' letter-spacing="0.35" >装配之前仔细阅读</text>
<text x="462.6" y="196.79999999999998" font-size="4.4" font-weight="bold" fill="#2a2a2a" text-anchor="start" font-family='"Liberation Sans", "Noto Sans CJK SC", sans-serif' letter-spacing="0.41" >小心用模型锉刀锉平所有零件表面的注射浇口。</text>
<circle cx="458.4" cy="195.2" r="1.1" fill="#111"/>
<text x="462.6" y="205.2" font-size="4.4" font-weight="bold" fill="#2a2a2a" text-anchor="start" font-family='"Liberation Sans", "Noto Sans CJK SC", sans-serif' letter-spacing="0.41" >小心用刀片切下蚀刻片零件，不要遗失小零件。</text>
<circle cx="458.4" cy="203.6" r="1.1" fill="#111"/>
<text x="462.6" y="213.5" font-size="4.4" font-weight="bold" fill="#2a2a2a" text-anchor="start" font-family='"Liberation Sans", "Noto Sans CJK SC", sans-serif' letter-spacing="0.41" >用强力快干胶水粘合蚀刻片零件和金属轴。过量的快干胶</text>
<circle cx="458.4" cy="211.9" r="1.1" fill="#111"/>
<text x="462.6" y="221.79999999999998" font-size="4.4" font-weight="bold" fill="#2a2a2a" text-anchor="start" font-family='"Liberation Sans", "Noto Sans CJK SC", sans-serif' letter-spacing="0.41" >水使用可能导致可动零件会粘住，小心涂胶。</text>
<text x="462.6" y="230.5" font-size="4.4" font-weight="bold" fill="#2a2a2a" text-anchor="start" font-family='"Liberation Sans", "Noto Sans CJK SC", sans-serif' letter-spacing="0.41" >取蚀刻片时应特别注意安全，防止利边刺伤手指。</text>
<circle cx="458.4" cy="228.9" r="1.1" fill="#111"/>
<text x="462.6" y="239.29999999999998" font-size="4.4" font-weight="bold" fill="#2a2a2a" text-anchor="start" font-family='"Liberation Sans", "Noto Sans CJK SC", sans-serif' letter-spacing="0.41" >某些零件表面需贴上水贴纸，请选择在装配的同时进行。</text>
<circle cx="458.4" cy="237.7" r="1.1" fill="#111"/>
<text x="462.6" y="247.79999999999998" font-size="4.4" font-weight="bold" fill="#2a2a2a" text-anchor="start" font-family='"Liberation Sans", "Noto Sans CJK SC", sans-serif' letter-spacing="0.41" >推荐模型工具(自备)：胶水、水口剪刀、长咀钳、刀片、</text>
<circle cx="458.4" cy="246.2" r="1.1" fill="#111"/>
<text x="462.6" y="256.2" font-size="4.4" font-weight="bold" fill="#2a2a2a" text-anchor="start" font-family='"Liberation Sans", "Noto Sans CJK SC", sans-serif' letter-spacing="0.41" >锉刀、镊子、钻、钻、剪刀、瞬间快干胶。</text>
<text x="462.6" y="265.6" font-size="4.4" font-weight="bold" fill="#2a2a2a" text-anchor="start" font-family='"Liberation Sans", "Noto Sans CJK SC", sans-serif' letter-spacing="0.41" >软布同砂纸同时也应该是必备工具。</text>
<circle cx="458.4" cy="264" r="1.1" fill="#111"/>
<text x="462.6" y="274.20000000000005" font-size="4.4" font-weight="bold" fill="#2a2a2a" text-anchor="start" font-family='"Liberation Sans", "Noto Sans CJK SC", sans-serif' letter-spacing="0.41" >请使用塑料胶水和油漆，模型内不含。</text>
<circle cx="458.4" cy="272.6" r="1.1" fill="#111"/>
<circle cx="340.7" cy="310.2" r="8.6" fill="#161212"/>
<path d="M340.9,308.59999999999997 L345.3,303.59999999999997 L347.5,305.59999999999997 L342.09999999999997,309.8 Z" fill="#fff"/>
<path d="M341.3,309.0 L339.09999999999997,311.0 L339.7,311.59999999999997 L341.9,309.59999999999997 Z" fill="#ccc"/>
<path d="M339.09999999999997,311.2 Q336.09999999999997,314.4 337.3,316.0 Q338.9,317.59999999999997 340.5,316.0 Q341.5,314.4 339.09999999999997,311.2 Z" fill="#fff"/>
<circle cx="338.7" cy="315.09999999999997" r="0.75" fill="#161212"/>
<circle cx="401.5" cy="310.2" r="8.6" fill="#161212"/>
<path d="M397.7,309.0 L399.1,307.59999999999997 L403.9,307.59999999999997 L405.3,309.0 L405.3,315.59999999999997 L397.7,315.59999999999997 Z" fill="#fff"/>
<rect x="400.8" y="304.2" width="1.4" height="4" fill="#fff"/>
<rect x="398.8" y="310.0" width="5.4" height="0.8" fill="#161212"/><rect x="399.1" y="312.59999999999997" width="1.3" height="1.6" fill="#161212"/><rect x="402.6" y="312.59999999999997" width="1.3" height="1.6" fill="#161212"/><rect x="401.1" y="308.0" width="0.8" height="1.6" fill="#161212"/>
<circle cx="455" cy="310.2" r="8.6" fill="#161212"/>
<rect x="451.6" y="304.0" width="6.8" height="2.6" rx="1.2" fill="#fff"/>
<rect x="454.2" y="306.3" width="1.6" height="7.6" fill="#fff"/>
<circle cx="455" cy="315.7" r="0.9" fill="#fff"/>
<circle cx="511.2" cy="310.2" r="8.6" fill="#161212"/>
<path d="M508.59999999999997,305.8 L516.8,305.4 L514.6,313.2 L505.8,313.8 Z" fill="#fff"/>
<path d="M505.8,313.8 L514.6,313.2 L514.2,314.59999999999997 L505.8,314.8 Z" fill="#aaa"/>
<circle cx="563.8" cy="310.59999999999997" r="8.6" fill="#161212"/>
<path d="M567.4,305.59999999999997 Q568.4,311.99999999999994 562.1999999999999,312.99999999999994 L562.4,314.79999999999995 L558.4,311.99999999999994 L561.8,309.4 L562.0,311.2 Q566.1999999999999,310.2 566.0,305.79999999999995 Z" fill="#fff"/>
<circle cx="344.5" cy="357.6" r="8.7" fill="#161212"/>
<path d="M338.9,359.20000000000005 L349.5,352.40000000000003 L350.1,356.6 Q348.5,362.0 343.5,363.0 L339.5,360.8 Z" fill="#c8c8c8"/>
<path d="M338.9,359.20000000000005 L349.5,352.40000000000003" stroke="#fff" stroke-width="0.9"/>
<line x1="341.1" y1="358.20000000000005" x2="343.1" y2="362.20000000000005" stroke="#777" stroke-width="0.5"/>
<line x1="343.0" y1="357.00000000000006" x2="344.6" y2="361.1" stroke="#777" stroke-width="0.5"/>
<line x1="344.90000000000003" y1="355.80000000000007" x2="346.1" y2="360.00000000000006" stroke="#777" stroke-width="0.5"/>
<line x1="346.8" y1="354.6" x2="347.6" y2="358.90000000000003" stroke="#777" stroke-width="0.5"/>
<line x1="348.70000000000005" y1="353.40000000000003" x2="349.1" y2="357.80000000000007" stroke="#777" stroke-width="0.5"/>
<circle cx="402" cy="357.6" r="8.7" fill="#161212"/>
<text x="402" y="362.90000000000003" font-size="14.8" font-weight="normal" fill="#fff" text-anchor="middle" font-family='"Liberation Sans", "Noto Sans CJK SC", sans-serif' >?</text>
<circle cx="456" cy="357.6" r="8.7" fill="#161212"/>
<line x1="451" y1="353.0" x2="458.4" y2="363.0" stroke="#fff" stroke-width="1.5"/>
<line x1="450" y1="360.6" x2="457" y2="354.20000000000005" stroke="#fff" stroke-width="1.5"/>
<line x1="449.6" y1="356.6" x2="458" y2="359.20000000000005" stroke="#fff" stroke-width="1.1"/>
<circle cx="459.2" cy="354.20000000000005" r="2.9" fill="#fff"/>
<path d="M457.4,353.20000000000005 h3.6 M457.4,355.0 h3.6 M458.2,352.20000000000005 v4 M460.2,352.20000000000005 v4" stroke="#161212" stroke-width="0.5"/>
<circle cx="511.3" cy="357.8" r="8.7" fill="#161212"/>
<path d="M504.3,360.40000000000003 L508.1,355.0 L512.3,352.6 L517.1,355.0 L517.9,358.8 L511.90000000000003,362.6 L505.3,362.40000000000003 Z" fill="#fff"/>
<path d="M505.1,361.40000000000003 L517.3,357.40000000000003" stroke="#161212" stroke-width="0.7"/>
<path d="M508.3,359.40000000000003 L512.7,355.8 L515.7,357.0" stroke="#161212" stroke-width="0.6" fill="none"/>
<path d="M513.3,359.40000000000003 h3.4 M513.9,358.2 v2.6" stroke="#161212" stroke-width="0.5" fill="none"/>
<circle cx="563.7" cy="358.70000000000005" r="9.5" fill="#161212"/>
<path d="M563.7,351.70000000000005 L570.7,358.70000000000005 L563.7,365.70000000000005 L556.7,358.70000000000005 Z" fill="#fff"/>
<path d="M561.5,354.50000000000006 L565.9000000000001,358.70000000000005 L561.5,362.90000000000003" stroke="#161212" stroke-width="2.2" fill="none"/>
<text x="343.7" y="325.6" font-size="5.25" font-weight="normal" fill="#2a2a2a" text-anchor="middle" font-family='"Liberation Sans", "Noto Sans CJK SC", sans-serif' >cyanoacrylate glue</text>
<text x="340.3" y="332.2" font-size="4.3" font-weight="bold" fill="#2a2a2a" text-anchor="middle" font-family='"Liberation Sans", "Noto Sans CJK SC", sans-serif' letter-spacing="0.3" >使用强力胶</text>
<text x="402" y="325.6" font-size="5.25" font-weight="normal" fill="#2a2a2a" text-anchor="middle" font-family='"Liberation Sans", "Noto Sans CJK SC", sans-serif' >weight</text>
<text x="402" y="332.2" font-size="4.3" font-weight="bold" fill="#2a2a2a" text-anchor="middle" font-family='"Liberation Sans", "Noto Sans CJK SC", sans-serif' letter-spacing="0.3" >配重</text>
<text x="455.3" y="325.6" font-size="5.25" font-weight="normal" fill="#2a2a2a" text-anchor="middle" font-family='"Liberation Sans", "Noto Sans CJK SC", sans-serif' >make hole</text>
<text x="455" y="332.2" font-size="4.3" font-weight="bold" fill="#2a2a2a" text-anchor="middle" font-family='"Liberation Sans", "Noto Sans CJK SC", sans-serif' letter-spacing="0.3" >钻孔</text>
<text x="511.4" y="325.6" font-size="5.25" font-weight="normal" fill="#2a2a2a" text-anchor="middle" font-family='"Liberation Sans", "Noto Sans CJK SC", sans-serif' >cut / remove</text>
<text x="511" y="332.2" font-size="4.3" font-weight="bold" fill="#2a2a2a" text-anchor="middle" font-family='"Liberation Sans", "Noto Sans CJK SC", sans-serif' letter-spacing="0.3" >切除</text>
<text x="564" y="325.6" font-size="5.25" font-weight="normal" fill="#2a2a2a" text-anchor="middle" font-family='"Liberation Sans", "Noto Sans CJK SC", sans-serif' >bend</text>
<text x="564" y="332.2" font-size="4.3" font-weight="bold" fill="#2a2a2a" text-anchor="middle" font-family='"Liberation Sans", "Noto Sans CJK SC", sans-serif' letter-spacing="0.3" >弯曲</text>
<text x="344" y="372.8" font-size="5.25" font-weight="normal" fill="#2a2a2a" text-anchor="middle" font-family='"Liberation Sans", "Noto Sans CJK SC", sans-serif' >file / sand</text>
<text x="344" y="379.6" font-size="4.3" font-weight="bold" fill="#2a2a2a" text-anchor="middle" font-family='"Liberation Sans", "Noto Sans CJK SC", sans-serif' letter-spacing="0.3" >锉平</text>
<text x="402.2" y="372.8" font-size="5.25" font-weight="normal" fill="#2a2a2a" text-anchor="middle" font-family='"Liberation Sans", "Noto Sans CJK SC", sans-serif' >option</text>
<text x="402.2" y="379.6" font-size="4.3" font-weight="bold" fill="#2a2a2a" text-anchor="middle" font-family='"Liberation Sans", "Noto Sans CJK SC", sans-serif' letter-spacing="0.3" >选择</text>
<text x="455" y="372.8" font-size="5.25" font-weight="normal" fill="#2a2a2a" text-anchor="middle" font-family='"Liberation Sans", "Noto Sans CJK SC", sans-serif' >no cement</text>
<text x="455" y="379.6" font-size="4.3" font-weight="bold" fill="#2a2a2a" text-anchor="middle" font-family='"Liberation Sans", "Noto Sans CJK SC", sans-serif' letter-spacing="0.3" >不涂胶水</text>
<text x="511" y="372.8" font-size="5.25" font-weight="normal" fill="#2a2a2a" text-anchor="middle" font-family='"Liberation Sans", "Noto Sans CJK SC", sans-serif' >decal</text>
<text x="511" y="379.6" font-size="4.3" font-weight="bold" fill="#2a2a2a" text-anchor="middle" font-family='"Liberation Sans", "Noto Sans CJK SC", sans-serif' letter-spacing="0.3" >贴纸</text>
<text x="564" y="373.6" font-size="4.3" font-weight="bold" fill="#2a2a2a" text-anchor="middle" font-family='"Liberation Sans", "Noto Sans CJK SC", sans-serif' letter-spacing="0.3" >先装</text>
<text x="563.1" y="379.8" font-size="5.44" font-weight="normal" fill="#222" text-anchor="middle" font-family='"Liberation Sans", "Noto Sans CJK SC", sans-serif' >Install it first</text>
<text x="319.85" y="410.3" font-size="5.0" font-weight="bold" fill="#3a3a3a" text-anchor="start" font-family='"Liberation Sans", "Noto Sans CJK SC", sans-serif' textLength="33.6" lengthAdjust="spacing" >水贴纸的使用:</text>
<text x="319.85" y="420.8" font-size="5.0" font-weight="bold" fill="#3a3a3a" text-anchor="start" font-family='"Liberation Sans", "Noto Sans CJK SC", sans-serif' textLength="57" lengthAdjust="spacing" >1.从水贴纸上剪下印花;</text>
<text x="319.85" y="433.8" font-size="5.0" font-weight="bold" fill="#3a3a3a" text-anchor="start" font-family='"Liberation Sans", "Noto Sans CJK SC", sans-serif' textLength="114.5" lengthAdjust="spacing" >2.将印花放入温水中浸10秒，然后放在干净布上.</text>
<text x="319.85" y="446.3" font-size="5.0" font-weight="bold" fill="#3a3a3a" text-anchor="start" font-family='"Liberation Sans", "Noto Sans CJK SC", sans-serif' textLength="82.7" lengthAdjust="spacing" >3.拿着印花纸板将印花移到模型上;</text>
<text x="319.85" y="459.5" font-size="5.0" font-weight="bold" fill="#3a3a3a" text-anchor="start" font-family='"Liberation Sans", "Noto Sans CJK SC", sans-serif' textLength="82.7" lengthAdjust="spacing" >4.手指蘸水将印花移到适当的位置;</text>
<text x="319.85" y="472.5" font-size="5.0" font-weight="bold" fill="#3a3a3a" text-anchor="start" font-family='"Liberation Sans", "Noto Sans CJK SC", sans-serif' textLength="93.9" lengthAdjust="spacing" >5.用软布轻压印花直至水干、汽泡消失.</text>
<text x="441.3" y="407.9" font-size="5.55" font-weight="normal" fill="#333" text-anchor="start" font-family='"Liberation Sans", "Noto Sans CJK SC", sans-serif' >DECAL APPLICATION</text>
<text x="441.5" y="415.2" font-size="5.55" font-weight="normal" fill="#333" text-anchor="start" font-family='"Liberation Sans", "Noto Sans CJK SC", sans-serif' >1. Cut off decal from sheet.</text>
<text x="441.5" y="422.4" font-size="5.55" font-weight="normal" fill="#333" text-anchor="start" font-family='"Liberation Sans", "Noto Sans CJK SC", sans-serif' >2. Dip the decal in tepid water 40°C for about 10 sec. and</text>
<text x="447.5" y="429.6" font-size="5.55" font-weight="normal" fill="#333" text-anchor="start" font-family='"Liberation Sans", "Noto Sans CJK SC", sans-serif' >place on a clean cloth.</text>
<text x="441.5" y="436.8" font-size="5.55" font-weight="normal" fill="#333" text-anchor="start" font-family='"Liberation Sans", "Noto Sans CJK SC", sans-serif' >3. Hold the backing sheet edge and slide decal onto the</text>
<text x="447.5" y="444.0" font-size="5.55" font-weight="normal" fill="#333" text-anchor="start" font-family='"Liberation Sans", "Noto Sans CJK SC", sans-serif' >model.</text>
<text x="441.5" y="451.2" font-size="5.55" font-weight="normal" fill="#333" text-anchor="start" font-family='"Liberation Sans", "Noto Sans CJK SC", sans-serif' >4. Move decal into position by wetting decal with finger.</text>
<text x="441.5" y="458.4" font-size="5.55" font-weight="normal" fill="#333" text-anchor="start" font-family='"Liberation Sans", "Noto Sans CJK SC", sans-serif' >5. Press decal gently down with a soft cloth until excess</text>
<text x="447.5" y="465.6" font-size="5.55" font-weight="normal" fill="#333" text-anchor="start" font-family='"Liberation Sans", "Noto Sans CJK SC", sans-serif' >water and air bubbles are gone.</text>
<text x="441.5" y="472.8" font-size="5.55" font-weight="normal" fill="#333" text-anchor="start" font-family='"Liberation Sans", "Noto Sans CJK SC", sans-serif' >6. Allow decal to dry completely before handling model.</text>
<text x="316" y="494.2" font-size="8.6" font-weight="bold" fill="#222" text-anchor="start" font-family='"Liberation Sans", "Noto Sans CJK SC", sans-serif' textLength="23.6" lengthAdjust="spacingAndGlyphs" >07162</text>
<text x="447.2" y="494.2" font-size="8.6" font-weight="bold" fill="#222" text-anchor="start" font-family='"Liberation Sans", "Noto Sans CJK SC", sans-serif' >1</text>
</svg></body></html>
